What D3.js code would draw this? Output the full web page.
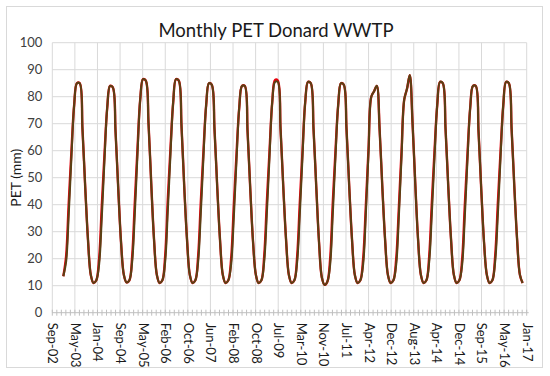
<!DOCTYPE html>
<html lang="en">
<head>
  <meta charset="UTF-8">
  <title>Monthly PET Donard WWTP</title>
  <script src="https://d3js.org/d3.v7.min.js"></script>
  <style>
    body { margin: 0; background: #fff; font-family: Lato, "Open Sans", sans-serif; }
    svg { display: block; }
  </style>
</head>
<body>
  <svg id="chart" width="550" height="376"></svg>
  <script>
    // monthly PET (mm), Jan..Dec, one row per year 2003-2016
    const years = [2003, 2004, 2005, 2006, 2007, 2008, 2009, 2010, 2011, 2012, 2013, 2014, 2015, 2016];
    const petGreen = [
      [13.5, 19, 36, 58, 77, 85, 85, 68, 46, 27, 14, 11],
      [12, 18, 35, 57, 76, 84, 83.5, 67, 45, 26, 14, 11.2],
      [12, 19, 36, 59, 79, 86.5, 86, 70, 47, 27, 14, 11],
      [12, 19, 37, 59, 78, 86.5, 86, 69, 46, 27, 14, 11],
      [12, 19, 36, 58, 77, 85, 84.5, 68, 46, 27, 14, 11],
      [12, 18, 35, 57, 76, 84, 84, 67, 45, 26, 14, 11],
      [12, 19, 36, 58, 78, 85.5, 85.5, 68, 46, 27, 14, 11],
      [12, 19, 36, 58, 78, 85.5, 85, 68, 46, 26, 13, 10.3],
      [11.5, 18, 36, 58, 77, 85, 84.5, 68, 46, 27, 14, 11],
      [12, 18, 36, 60, 80, 82, 84, 68, 46, 27, 14, 11],
      [12, 18, 35, 58, 79, 83, 88, 70, 47, 27, 14, 11],
      [12, 19, 36, 58, 77, 85.5, 85, 68, 46, 27, 14, 11],
      [12, 18, 35, 57, 76, 84, 84, 67, 45, 26, 14, 11],
      [12, 19, 36, 58, 77, 85.5, 85, 68, 46, 27, 14, 11]
    ];
    const petRed = [
      [13.5, 21, 40, 60, 77, 85, 85, 68, 46, 27, 14, 11],
      [12, 20, 39, 59, 76, 84, 83.5, 67, 45, 26, 14, 11.2],
      [12, 21, 40, 61, 79, 86.5, 86, 70, 47, 27, 14, 11],
      [12, 21, 41, 61, 78, 86.5, 86, 69, 46, 27, 14, 11],
      [12, 21, 40, 60, 77, 85, 84.5, 68, 46, 27, 14, 11],
      [12, 20, 39, 59, 76, 84, 84, 67, 45, 26, 14, 11],
      [12, 21, 40, 60, 78, 86.2, 86, 68, 46, 27, 14, 11],
      [12, 21, 40, 60, 78, 85.5, 85, 68, 46, 26, 13, 10.3],
      [11.5, 20, 40, 60, 77, 85, 84.5, 68, 46, 27, 14, 11],
      [12, 20, 39, 61, 80, 82, 84, 68, 46, 27, 14, 11],
      [12, 20, 38, 60, 79, 83, 88, 70, 47, 27, 14, 11],
      [12, 21, 40, 60, 77, 85.5, 85, 68, 46, 27, 14, 11],
      [12, 20, 39, 59, 76, 84, 84, 67, 45, 26, 14, 11],
      [12, 21, 40, 60, 77, 85.5, 85, 68, 46, 27, 14, 11]
    ];
    const yTicks = [0, 10, 20, 30, 40, 50, 60, 70, 80, 90, 100];
    const axisStart = new Date(2002, 8, 1);
    const majorStepDays = 250;   // Excel date axis major unit
    const majorCount = 21;

    const svg = d3.select('#chart');
    const W = 550, H = 376;
    const plotL = 52.3, plotR = 526.7, plotT = 42.7, plotB = 312.7;

    svg.append('rect').attr('width', W).attr('height', H).attr('fill', '#fff');
    svg.append('rect')
      .attr('x', 6.5).attr('y', 6.5).attr('width', 536).attr('height', 361)
      .attr('fill', 'none').attr('stroke', '#d9d9d9').attr('stroke-width', 1);

    const x = d3.scaleTime()
      .domain([axisStart, d3.timeDay.offset(axisStart, majorStepDays * majorCount)])
      .range([plotL, plotR]);
    const y = d3.scaleLinear().domain([0, 100]).range([plotB, plotT]);

    const majors = d3.range(majorCount + 1).map(i => d3.timeDay.offset(axisStart, i * majorStepDays));
    const minors = d3.range(majorCount * 5 + 1).map(i => d3.timeDay.offset(axisStart, i * majorStepDays / 5));

    // gridlines
    svg.append('g').selectAll('line').data(yTicks.filter(v => v > 0)).join('line')
      .attr('x1', plotL).attr('x2', plotR)
      .attr('y1', d => y(d)).attr('y2', d => y(d))
      .attr('stroke', '#d9d9d9').attr('stroke-width', 1);
    svg.append('g').selectAll('line').data(majors).join('line')
      .attr('x1', d => x(d)).attr('x2', d => x(d))
      .attr('y1', plotT).attr('y2', plotB)
      .attr('stroke', '#d9d9d9').attr('stroke-width', 1);

    // x axis line with minor ticks crossing it
    svg.append('line')
      .attr('x1', plotL).attr('x2', plotR + 2).attr('y1', plotB).attr('y2', plotB)
      .attr('stroke', '#bfbfbf').attr('stroke-width', 1);
    svg.append('g').selectAll('line').data(minors).join('line')
      .attr('x1', d => x(d)).attr('x2', d => x(d))
      .attr('y1', plotB - 3).attr('y2', plotB + 3)
      .attr('stroke', '#bfbfbf').attr('stroke-width', 1);

    // x labels
    const xAxis = svg.append('g')
      .attr('transform', `translate(0,${plotB})`)
      .call(d3.axisBottom(x).tickValues(majors).tickFormat(d3.timeFormat('%b-%y')).tickSize(0));
    xAxis.select('.domain').remove();
    xAxis.selectAll('text')
      .attr('transform', 'rotate(90)')
      .attr('x', 10).attr('y', 0).attr('dy', '0.35em')
      .style('text-anchor', 'start')
      .attr('font-size', 13)
      .attr('font-family', 'Lato, "Open Sans", sans-serif')
      .attr('fill', '#1a1a1a');

    // y labels
    const yAxis = svg.append('g')
      .attr('transform', `translate(${plotL},0)`)
      .call(d3.axisLeft(y).tickValues(yTicks).tickSize(0).tickPadding(10));
    yAxis.select('.domain').remove();
    yAxis.selectAll('text')
      .attr('font-size', 13)
      .attr('font-family', 'Lato, "Open Sans", sans-serif')
      .attr('fill', '#404040');

    svg.append('text')
      .attr('transform', `translate(21,${(plotT + plotB) / 2}) rotate(-90)`)
      .attr('text-anchor', 'middle')
      .attr('font-size', 14)
      .attr('fill', '#1a1a1a')
      .text('PET (mm)');

    svg.append('text')
      .attr('x', 276).attr('y', 37)
      .attr('text-anchor', 'middle')
      .attr('font-size', 18.5)
      .attr('fill', '#1a1a1a')
      .text('Monthly PET Donard WWTP');

    // series
    const toPoints = rows => rows.flatMap((row, yi) =>
      row.map((v, m) => ({ date: new Date(years[yi], m, 1), value: v })));
    const line = d3.line()
      .x(d => x(d.date)).y(d => y(d.value))
      .curve(d3.curveCatmullRom.alpha(0.5));

    svg.append('path').datum(toPoints(petRed))
      .attr('d', line).attr('fill', 'none')
      .attr('stroke', '#e8000b').attr('stroke-width', 2.4);
    svg.append('path').datum(toPoints(petGreen))
      .attr('d', line).attr('fill', 'none')
      .attr('stroke', '#5a4014').attr('stroke-width', 2.1);
  </script>
</body>
</html>
